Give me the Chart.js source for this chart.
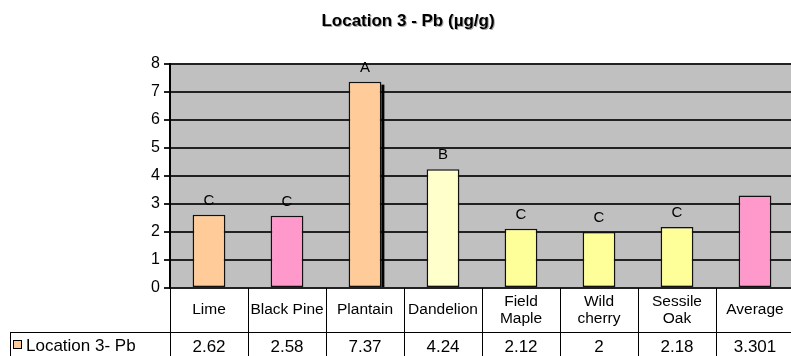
<!DOCTYPE html>
<html>
<head>
<meta charset="utf-8">
<script src="https://cdn.jsdelivr.net/npm/chart.js@4"></script>
<style>
  body { margin: 0; background: #fff; overflow: hidden; }
  #wrap { width: 791px; height: 356px; overflow: hidden; }
</style>
</head>
<body>
<div id="wrap"><canvas id="myChart" width="794" height="356"></canvas></div>
<script>
// data
const categories = ['Lime', 'Black Pine', 'Plantain', 'Dandelion', 'Field Maple', 'Wild cherry', 'Sessile Oak', 'Average'];
const headerLines = [['Lime'], ['Black Pine'], ['Plantain'], ['Dandelion'], ['Field', 'Maple'], ['Wild', 'cherry'], ['Sessile', 'Oak'], ['Average']];
const pbValues = [2.62, 2.58, 7.37, 4.24, 2.12, 2, 2.18, 3.301];
const valueLabels = ['2.62', '2.58', '7.37', '4.24', '2.12', '2', '2.18', '3.301'];
const groupLetters = ['C', 'C', 'A', 'B', 'C', 'C', 'C', ''];
const barColors = ['#FFCC99', '#FF99CC', '#FFCC99', '#FFFFCC', '#FFFF99', '#FFFF99', '#FFFF99', '#FF99CC'];
const yTicks = [0, 1, 2, 3, 4, 5, 6, 7, 8];

const font = '"Liberation Sans", Arial, sans-serif';

// grey plot area + title
const backPlugin = {
  id: 'backPlugin',
  beforeDraw(chart) {
    const ctx = chart.ctx;
    const a = chart.chartArea;
    ctx.save();
    ctx.fillStyle = '#C0C0C0';
    ctx.fillRect(a.left, a.top, a.right - a.left, a.bottom - a.top);
    ctx.strokeStyle = '#808080';
    ctx.lineWidth = 1.5;
    ctx.beginPath();
    ctx.moveTo(a.left, a.top);
    ctx.lineTo(a.right, a.top);
    ctx.stroke();
    ctx.font = 'bold 17px ' + font;
    ctx.textAlign = 'center';
    ctx.textBaseline = 'middle';
    ctx.fillStyle = '#aaa';
    ctx.fillText('Location 3 - Pb (\u00b5g/g)', 409, 22);
    ctx.fillStyle = '#000';
    ctx.fillText('Location 3 - Pb (\u00b5g/g)', 408, 21);
    ctx.restore();
  },
  beforeDatasetsDraw(chart) {
    // dark shadow on the right of the Plantain bar, like in the original
    const ctx = chart.ctx;
    const bar = chart.getDatasetMeta(0).data[2];
    ctx.save();
    ctx.fillStyle = '#000';
    ctx.fillRect(bar.x + bar.width / 2, bar.y + 3, 3, bar.base - bar.y - 3);
    ctx.restore();
  }
};

// letters above bars and the data table under the plot
const tablePlugin = {
  id: 'tablePlugin',
  afterDraw(chart) {
    const ctx = chart.ctx;
    const a = chart.chartArea;
    const meta = chart.getDatasetMeta(0);
    const xs = chart.scales.x;
    const step = (a.right - a.left) / categories.length;
    ctx.save();

    // letters
    ctx.fillStyle = '#000';
    ctx.font = '15px ' + font;
    ctx.textAlign = 'center';
    ctx.textBaseline = 'middle';
    meta.data.forEach((bar, i) => {
      if (groupLetters[i]) ctx.fillText(groupLetters[i], bar.x, bar.y - 14);
    });

    // table lines
    const rowY = 332;
    const bottom = 357;
    ctx.strokeStyle = '#000';
    ctx.lineWidth = 1;
    ctx.beginPath();
    for (let i = 0; i <= categories.length; i++) {
      const x = Math.round(a.left + step * i) + 0.5;
      ctx.moveTo(x, a.bottom);
      ctx.lineTo(x, bottom);
    }
    ctx.moveTo(10.5, rowY);
    ctx.lineTo(10.5, bottom);
    ctx.moveTo(10, rowY + 0.5);
    ctx.lineTo(a.right, rowY + 0.5);
    ctx.stroke();

    // header text
    ctx.font = '15.5px ' + font;
    headerLines.forEach((lines, i) => {
      const cx = xs.getPixelForValue(i);
      if (lines.length == 1) {
        ctx.fillText(lines[0], cx, 310);
      } else {
        ctx.fillText(lines[0], cx, 302);
        ctx.fillText(lines[1], cx, 319);
      }
    });

    // values row
    ctx.font = '17px ' + font;
    valueLabels.forEach((v, i) => {
      ctx.fillText(v, xs.getPixelForValue(i), 347);
    });

    // legend key
    ctx.fillStyle = '#FFCC99';
    ctx.fillRect(14, 341, 7, 7);
    ctx.strokeStyle = '#000';
    ctx.strokeRect(13.5, 340.5, 8, 8);
    ctx.fillStyle = '#000';
    ctx.textAlign = 'left';
    ctx.fillText('Location 3- Pb', 26, 346);
    ctx.restore();
  }
};

const myChart = document.getElementById('myChart');

let barChart = new Chart(myChart, {
  type: 'bar',
  data: {
    labels: categories,
    datasets: [{
      label: 'Location 3- Pb',
      data: pbValues,
      backgroundColor: barColors,
      borderColor: '#111',
      borderWidth: 1.5,
      borderSkipped: false,
      categoryPercentage: 1,
      barPercentage: 0.42
    }]
  },
  options: {
    responsive: false,
    animation: false,
    layout: { padding: { top: 64, bottom: 68, left: 0, right: 0 } },
    plugins: {
      legend: { display: false },
      title: { display: false },
      tooltip: { enabled: false }
    },
    scales: {
      x: {
        display: false
      },
      y: {
        min: 0,
        max: 8,
        afterFit: function (scale) { scale.width = 170; },
        afterBuildTicks: function (scale) { scale.ticks = yTicks.map(v => ({ value: v })); },
        ticks: {
          color: '#000',
          font: { family: font, size: 16 },
          padding: 4
        },
        grid: {
          color: '#222',
          lineWidth: 2,
          tickLength: 6
        },
        border: { color: '#000', width: 2 }
      }
    }
  },
  plugins: [backPlugin, tablePlugin]
});
</script>
</body>
</html>
